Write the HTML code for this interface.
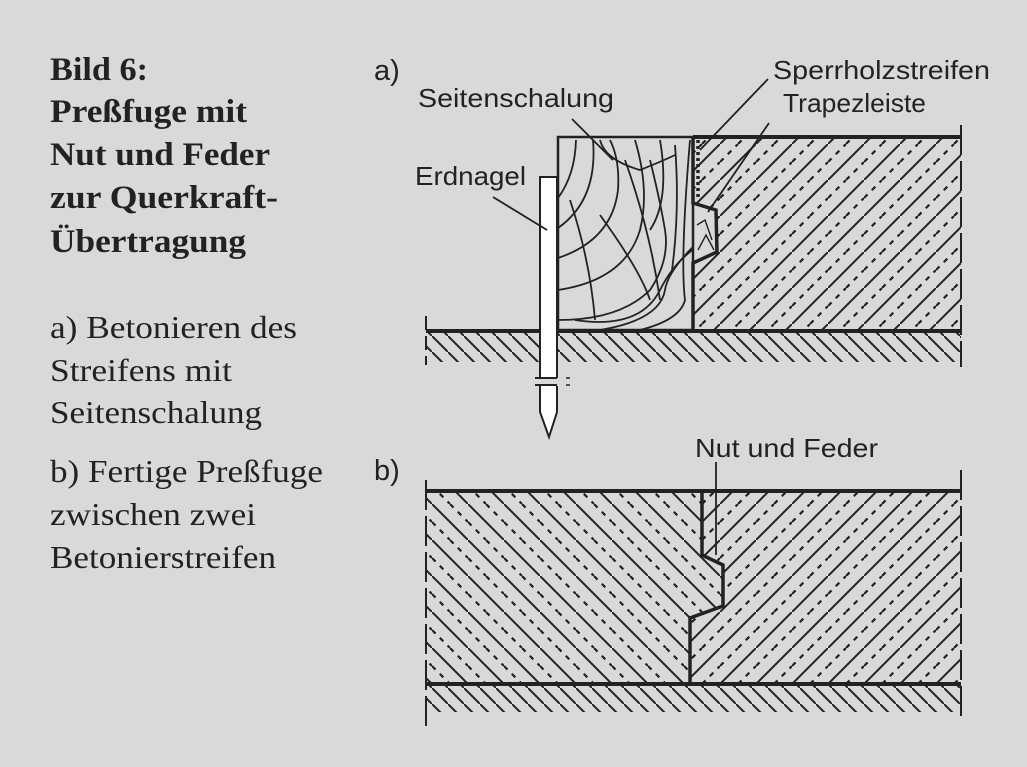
<!DOCTYPE html>
<html><head><meta charset="utf-8"><style>
html,body{margin:0;padding:0;background:#d9d9d9;}
svg{display:block;}
</style></head><body>
<svg width="1027" height="767" viewBox="0 0 1027 767" xmlns="http://www.w3.org/2000/svg">
<defs>
<pattern id="cR" patternUnits="userSpaceOnUse" width="36" height="36">
 <path d="M-2 38 L38 -2" stroke="#222" stroke-width="2"/>
 <path d="M0 18 L18 0 M18 36 L36 18" stroke="#222" stroke-width="2.2" stroke-dasharray="5 6"/>
</pattern>
<pattern id="cL" patternUnits="userSpaceOnUse" width="36" height="36">
 <path d="M-2 -2 L38 38" stroke="#222" stroke-width="2"/>
 <path d="M18 0 L36 18 M0 18 L18 36" stroke="#222" stroke-width="2.2" stroke-dasharray="5 6"/>
</pattern>
<pattern id="gr" patternUnits="userSpaceOnUse" width="16" height="16">
 <path d="M-2 -2 L18 18" stroke="#222" stroke-width="2"/>
</pattern>
<clipPath id="wood"><rect x="558" y="137" width="135" height="193"/></clipPath>
</defs>
<rect width="1027" height="767" fill="#d9d9d9"/>

<g font-family="'Liberation Serif',serif" fill="#222">
<g font-weight="bold" font-size="33" lengthAdjust="spacingAndGlyphs">
<text x="50" y="80" textLength="98" lengthAdjust="spacingAndGlyphs">Bild 6:</text>
<text x="50" y="122" textLength="197" lengthAdjust="spacingAndGlyphs">Preßfuge mit</text>
<text x="50" y="165" textLength="220" lengthAdjust="spacingAndGlyphs">Nut und Feder</text>
<text x="50" y="208" textLength="228" lengthAdjust="spacingAndGlyphs">zur Querkraft-</text>
<text x="50" y="252" textLength="196" lengthAdjust="spacingAndGlyphs">Übertragung</text>
</g>
<g font-size="32">
<text x="50" y="338" textLength="247" lengthAdjust="spacingAndGlyphs">a) Betonieren des</text>
<text x="50" y="381" textLength="182" lengthAdjust="spacingAndGlyphs">Streifens mit</text>
<text x="50" y="423" textLength="212" lengthAdjust="spacingAndGlyphs">Seitenschalung</text>
<text x="50" y="482" textLength="273" lengthAdjust="spacingAndGlyphs">b) Fertige Preßfuge</text>
<text x="50" y="525" textLength="206" lengthAdjust="spacingAndGlyphs">zwischen zwei</text>
<text x="50" y="568" textLength="226" lengthAdjust="spacingAndGlyphs">Betonierstreifen</text>
</g>
</g>

<g font-family="'Liberation Sans',sans-serif" fill="#222" font-size="26">
<text x="374" y="80" font-size="29">a)</text>
<text x="418" y="107" textLength="196" lengthAdjust="spacingAndGlyphs">Seitenschalung</text>
<text x="773" y="79" textLength="217" lengthAdjust="spacingAndGlyphs">Sperrholzstreifen</text>
<text x="783" y="112" textLength="143" lengthAdjust="spacingAndGlyphs">Trapezleiste</text>
<text x="415" y="185" textLength="111" lengthAdjust="spacingAndGlyphs">Erdnagel</text>
<text x="374" y="480" font-size="29">b)</text>
<text x="695" y="457" textLength="183" lengthAdjust="spacingAndGlyphs">Nut und Feder</text>
</g>

<!-- a) -->
<rect x="426" y="331" width="535" height="31" fill="url(#gr)"/>
<path d="M693 137 L961 137 L961 331 L693 331 L693 263 L717 252 L716 210 L693 203 Z" fill="url(#cR)"/>
<rect x="558" y="137" width="135" height="193" fill="#d9d9d9"/>
<g clip-path="url(#wood)" stroke="#222" stroke-width="1.8" fill="none">
 <path d="M558 198 Q575 175 576 140"/>
 <path d="M558 228 Q598 200 593 140"/>
 <path d="M558 258 Q612 240 618 190 Q620 160 610 140"/>
 <path d="M558 290 Q625 280 640 230 Q650 190 635 140"/>
 <path d="M558 320 Q620 320 650 290 Q670 260 665 230 Q660 200 650 160"/>
 <path d="M575 320 Q640 330 660 290 Q675 260 700 245"/>
 <path d="M600 330 Q660 320 665 290 Q668 270 700 240"/>
 <path d="M640 330 Q680 320 685 300 Q680 260 690 140"/>
 <path d="M570 200 Q590 260 595 320"/>
 <path d="M600 215 Q640 270 650 300"/>
 <path d="M625 160 Q650 230 660 300"/>
 <path d="M600 140 Q605 160 640 170 Q665 160 675 155"/>
 <path d="M660 140 Q670 200 650 230"/>
 <path d="M675 145 Q680 210 672 270"/>
</g>
<rect x="558" y="137" width="135" height="193" fill="none" stroke="#222" stroke-width="2.5"/>
<path d="M693 137 L693 203 L716 210 L717 252 L693 263 L693 330" fill="none" stroke="#222" stroke-width="3.5"/>
<line x1="698" y1="140" x2="698" y2="200" stroke="#222" stroke-width="3.5" stroke-dasharray="3 3"/>
<path d="M697 225 L705 220 L712 240 M698 250 L706 235 L714 250" stroke="#222" stroke-width="1.4" fill="none"/>
<line x1="693" y1="137" x2="961" y2="137" stroke="#222" stroke-width="4"/>
<line x1="426" y1="331" x2="961" y2="331" stroke="#222" stroke-width="4"/>
<line x1="961" y1="125" x2="961" y2="367" stroke="#222" stroke-width="2" stroke-dasharray="30 6"/>
<line x1="426" y1="316" x2="426" y2="365" stroke="#222" stroke-width="2" stroke-dasharray="14 6"/>
<path d="M540 177 L557 177 L557 412 L549 437 L540 412 Z" fill="#fff" stroke="#222" stroke-width="2"/>
<rect x="536" y="378" width="28" height="8" fill="#d9d9d9"/>
<path d="M535 378 L557 378 M535 385 L557 385" stroke="#222" stroke-width="2"/>
<path d="M566 378 L570 378 M566 385 L570 385" stroke="#222" stroke-width="1.5"/>
<g stroke="#222" stroke-width="1.8">
<line x1="572" y1="119" x2="613" y2="160"/>
<line x1="768" y1="79" x2="700" y2="150"/>
<line x1="769" y1="123" x2="708" y2="212"/>
<line x1="493" y1="197" x2="547" y2="230"/>
</g>

<!-- b) -->
<rect x="426" y="684" width="535" height="28" fill="url(#gr)"/>
<path d="M426 491 L702 491 L702 555 L723 565 L723 606 L690 618 L690 684 L426 684 Z" fill="url(#cL)"/>
<path d="M702 491 L961 491 L961 684 L690 684 L690 618 L723 606 L723 565 L702 555 Z" fill="url(#cR)"/>
<path d="M702 491 L702 555 L723 565 L723 606 L690 618 L690 684" fill="none" stroke="#222" stroke-width="3.5"/>
<line x1="426" y1="491" x2="961" y2="491" stroke="#222" stroke-width="4"/>
<line x1="426" y1="684" x2="961" y2="684" stroke="#222" stroke-width="4"/>
<line x1="716" y1="462" x2="716" y2="555" stroke="#222" stroke-width="1.8"/>
<line x1="961" y1="470" x2="961" y2="722" stroke="#222" stroke-width="2" stroke-dasharray="30 6"/>
<line x1="426" y1="480" x2="426" y2="730" stroke="#222" stroke-width="2" stroke-dasharray="30 6"/>
</svg>
</body></html>
